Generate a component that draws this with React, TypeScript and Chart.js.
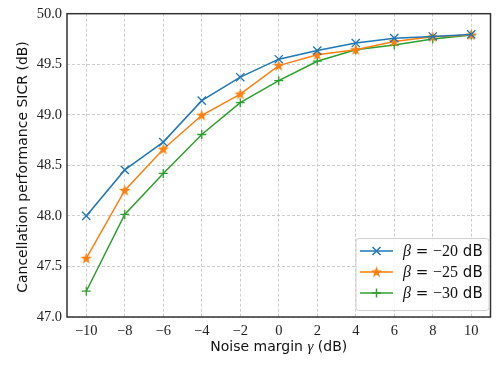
import React, { useEffect, useRef } from 'react';
import { Chart, registerables } from 'chart.js';

Chart.register(...registerables);

const gammaValues = [-10, -8, -6, -4, -2, 0, 2, 4, 6, 8, 10];
const sicrBeta20 = [48.0, 48.455, 48.73, 49.14, 49.372, 49.55, 49.635, 49.71, 49.758, 49.775, 49.795];
const sicrBeta25 = [47.58, 48.252, 48.66, 48.995, 49.205, 49.487, 49.594, 49.643, 49.724, 49.772, 49.79];
const sicrBeta30 = [47.255, 48.015, 48.42, 48.805, 49.12, 49.338, 49.53, 49.643, 49.69, 49.75, 49.79];
const betaLabels = ['−20', '−25', '−30'];
const xTickValues = [-10, -8, -6, -4, -2, 0, 2, 4, 6, 8, 10];
const yTickValues = [47.0, 47.5, 48.0, 48.5, 49.0, 49.5, 50.0];

const BLUE = '#1f77b4';
const ORANGE = '#ff7f0e';
const GREEN = '#2ca02c';
const SERIF = '"Liberation Serif", "DejaVu Serif", serif';
const SANS = '"DejaVu Sans", sans-serif';

function makeStar(color: string): HTMLCanvasElement {
  const c = document.createElement('canvas');
  c.width = 13;
  c.height = 13;
  const ctx = c.getContext('2d')!;
  const cx = 6.5, cy = 6.8, R = 6, r = 2.4;
  ctx.beginPath();
  for (let i = 0; i < 10; i++) {
    const rad = i % 2 === 0 ? R : r;
    const a = -Math.PI / 2 + (i * Math.PI) / 5;
    const x = cx + rad * Math.cos(a);
    const y = cy + rad * Math.sin(a);
    if (i === 0) ctx.moveTo(x, y); else ctx.lineTo(x, y);
  }
  ctx.closePath();
  ctx.fillStyle = color;
  ctx.fill();
  return c;
}

function drawMixed(ctx: CanvasRenderingContext2D, parts: { t: string; f: string }[], x: number, y: number, align: 'left' | 'center') {
  let total = 0;
  for (const p of parts) { ctx.font = p.f; total += ctx.measureText(p.t).width; }
  let cx = align === 'center' ? x - total / 2 : x;
  ctx.textAlign = 'left';
  ctx.textBaseline = 'middle';
  for (const p of parts) {
    ctx.font = p.f;
    ctx.fillText(p.t, cx, y);
    cx += ctx.measureText(p.t).width;
  }
}

export default function App() {
  const ref = useRef<HTMLCanvasElement | null>(null);
  useEffect(() => {
    if (!ref.current) return;
    const star = makeStar(ORANGE);
    const overlay = {
      id: 'overlay',
      afterDatasetsDraw(chart: any) {
        const ctx = chart.ctx as CanvasRenderingContext2D;
        const a = chart.chartArea;
        ctx.save();
        // frame
        ctx.strokeStyle = '#333333';
        ctx.lineWidth = 1.5;
        ctx.strokeRect(a.left, a.top, a.right - a.left, a.bottom - a.top);
        // legend
        const bx = 356, by = 238.5, bw = 133, bh = 72;
        ctx.beginPath();
        ctx.roundRect(bx, by, bw, bh, 3);
        ctx.fillStyle = 'rgba(255,255,255,0.85)';
        ctx.fill();
        ctx.strokeStyle = '#d0d0d0';
        ctx.lineWidth = 1;
        ctx.stroke();
        const rows = [251, 272, 293];
        const colors = [BLUE, ORANGE, GREEN];
        rows.forEach((ry, i) => {
          ctx.strokeStyle = colors[i];
          ctx.lineWidth = 1.5;
          ctx.beginPath();
          ctx.moveTo(360, ry);
          ctx.lineTo(393, ry);
          ctx.stroke();
          const mx = 376.5;
          if (i === 0) {
            ctx.beginPath();
            ctx.moveTo(mx - 4, ry - 4); ctx.lineTo(mx + 4, ry + 4);
            ctx.moveTo(mx - 4, ry + 4); ctx.lineTo(mx + 4, ry - 4);
            ctx.stroke();
          } else if (i === 1) {
            ctx.drawImage(star, mx - 6.5, ry - 6.5);
          } else {
            ctx.beginPath();
            ctx.moveTo(mx - 4.5, ry); ctx.lineTo(mx + 4.5, ry);
            ctx.moveTo(mx, ry - 4.5); ctx.lineTo(mx, ry + 4.5);
            ctx.stroke();
          }
          ctx.fillStyle = '#111';
          drawMixed(ctx, [
            { t: 'β', f: `italic 16px ${SERIF}` },
            { t: ' = ', f: `15px ${SANS}` },
            { t: betaLabels[i], f: `16px ${SERIF}` },
            { t: ' dB', f: `15px ${SANS}` },
          ], 403, ry + 1, 'left');
        });
        // axis titles
        ctx.fillStyle = '#111';
        drawMixed(ctx, [
          { t: 'Noise margin ', f: `14px ${SANS}` },
          { t: 'γ', f: `italic 15px ${SERIF}` },
          { t: ' (dB)', f: `14px ${SANS}` },
        ], (a.left + a.right) / 2, 347, 'center');
        ctx.translate(23.5, 167);
        ctx.rotate(-Math.PI / 2);
        ctx.font = `14px ${SANS}`;
        ctx.textAlign = 'center';
        ctx.textBaseline = 'middle';
        ctx.fillText('Cancellation performance SICR (dB)', 0, 0);
        ctx.restore();
      },
    };
    const chart = new Chart(ref.current, {
      type: 'line',
      data: {
        datasets: [
          {
            label: 'β = −20 dB',
            data: gammaValues.map((g, i) => ({ x: g, y: sicrBeta20[i] })),
            borderColor: BLUE,
            backgroundColor: BLUE,
            borderWidth: 1.5,
            pointStyle: 'crossRot',
            pointRadius: 5.8,
            pointBorderWidth: 1.3,
            pointBorderColor: BLUE,
          },
          {
            label: 'β = −25 dB',
            data: gammaValues.map((g, i) => ({ x: g, y: sicrBeta25[i] })),
            borderColor: ORANGE,
            backgroundColor: ORANGE,
            borderWidth: 1.5,
            pointStyle: star as any,
            pointRadius: 6,
          },
          {
            label: 'β = −30 dB',
            data: gammaValues.map((g, i) => ({ x: g, y: sicrBeta30[i] })),
            borderColor: GREEN,
            backgroundColor: GREEN,
            borderWidth: 1.5,
            pointStyle: 'cross',
            pointRadius: 4.5,
            pointBorderWidth: 1.3,
            pointBorderColor: GREEN,
          },
        ],
      },
      options: {
        animation: false,
        responsive: false,
        events: [],
        layout: { padding: { top: 9, right: 1, left: 0, bottom: 0 } },
        plugins: { legend: { display: false }, tooltip: { enabled: false } },
        scales: {
          x: {
            type: 'linear',
            min: -11,
            max: 11,
            afterBuildTicks: (s: any) => { s.ticks = xTickValues.map((v) => ({ value: v })); },
            afterFit: (s: any) => { s.height = 48; },
            grid: { color: '#c0c0c0', lineWidth: 0.8, drawTicks: false },
            border: { display: false, dash: [3, 2] },
            ticks: {
              padding: 5,
              color: '#222',
              font: { family: SERIF, size: 14.5 },
              maxRotation: 0,
              autoSkip: false,
              callback: (v: any) => (Number(v) < 0 ? '−' + Math.abs(Number(v)) : String(v)),
            },
          },
          y: {
            type: 'linear',
            min: 47,
            max: 50,
            afterBuildTicks: (s: any) => { s.ticks = yTickValues.map((v) => ({ value: v })); },
            afterFit: (s: any) => { s.width = 67; },
            grid: { color: '#c0c0c0', lineWidth: 0.8, drawTicks: false },
            border: { display: false, dash: [3, 2] },
            ticks: {
              padding: 5,
              color: '#222',
              font: { family: SERIF, size: 14.5 },
              autoSkip: false,
              callback: (v: any) => Number(v).toFixed(1),
            },
          },
        },
      },
      plugins: [overlay],
    });
    return () => chart.destroy();
  }, []);
  return (
    <div style={{ position: 'absolute', left: 0, top: 0, width: 498, height: 365, background: '#fff' }}>
      <canvas ref={ref} width={498} height={365} />
    </div>
  );
}
